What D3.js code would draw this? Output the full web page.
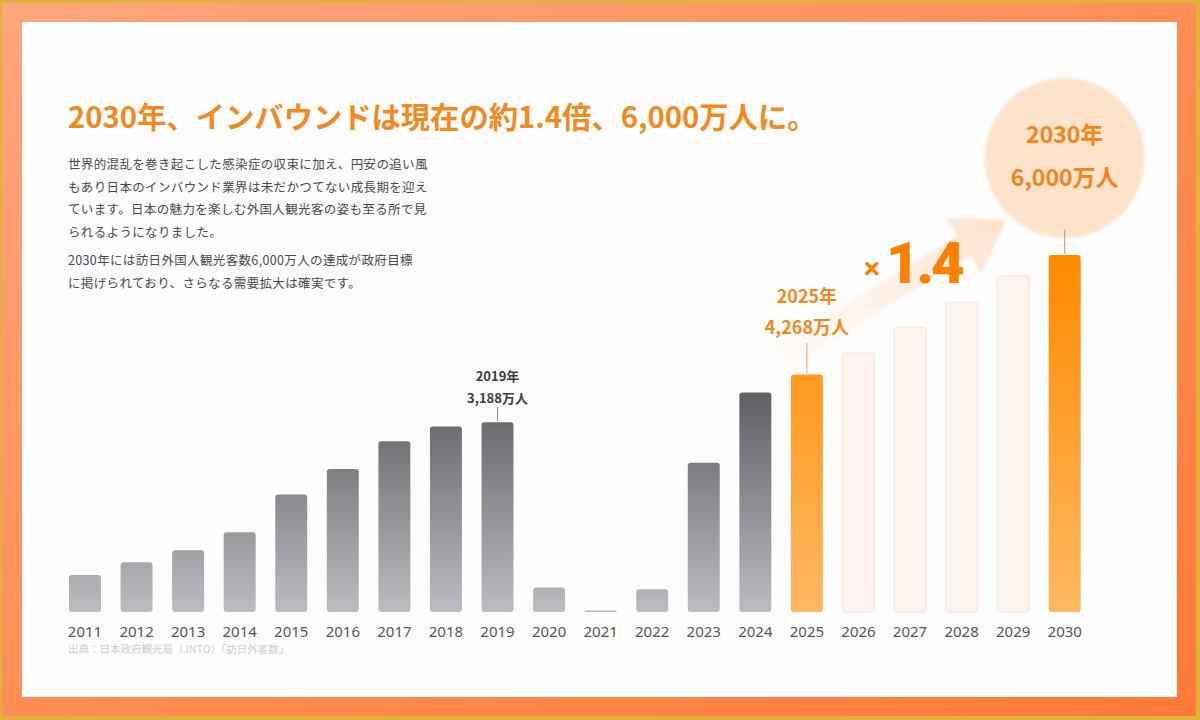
<!DOCTYPE html>
<html lang="ja">
<head>
<meta charset="utf-8">
<script src="https://cdn.jsdelivr.net/npm/d3@7"></script>
<style>
body{margin:0;background:#fff;}
svg{display:block;}
</style>
</head>
<body>
<svg id="chart" width="1200" height="720"></svg>
<script>
// data (万人)
var years = ["2011","2012","2013","2014","2015","2016","2017","2018","2019","2020",
             "2021","2022","2023","2024","2025","2026","2027","2028","2029","2030"];
var visitors = [622, 836, 1036, 1341, 1974, 2404, 2869, 3119, 3188, 412,
                25, 383, 2507, 3687, 3990, 4350, 4790, 5210, 5650, 6000];
// actual / highlight / forecast
var barKind = ["a","a","a","a","a","a","a","a","a","a",
               "a","a","a","a","h","f","f","f","f","h"];

var titleText = "2030年、インバウンドは現在の約1.4倍、6,000万人に。";
var bodyLines = [
  "世界的混乱を巻き起こした感染症の収束に加え、円安の追い風",
  "もあり日本のインバウンド業界は未だかつてない成長期を迎え",
  "ています。日本の魅力を楽しむ外国人観光客の姿も至る所で見",
  "られるようになりました。",
  "",
  "2030年には訪日外国人観光客数6,000万人の達成が政府目標",
  "に掲げられており、さらなる需要拡大は確実です。"
];
var note19 = ["2019年", "3,188万人"];
var note25 = ["2025年", "4,268万人"];
var note30 = ["2030年", "6,000万人"];
var growthText = "1.4";
var sourceText = "出典：日本政府観光局（JNTO）「訪日外客数」";

var jp = "'Noto Sans CJK JP', 'Noto Sans', sans-serif";
var svg = d3.select("#chart");
var defs = svg.append("defs");

// frame gradients
var fg = defs.append("linearGradient").attr("id","frameGrad")
  .attr("x1","0").attr("y1","0").attr("x2","1").attr("y2","1");
fg.append("stop").attr("offset","0%").attr("stop-color","#ffa67e");
fg.append("stop").attr("offset","55%").attr("stop-color","#ff8c52");
fg.append("stop").attr("offset","100%").attr("stop-color","#ff7a36");

svg.append("rect").attr("width",1200).attr("height",720).attr("fill","#e4b03c");
svg.append("rect").attr("x",2).attr("y",3).attr("width",1194).attr("height",713)
  .attr("fill","url(#frameGrad)");
svg.append("rect").attr("x",22).attr("y",22).attr("width",1155).attr("height",675)
  .attr("fill","#fefdfd");

// scales
var baseY = 612;
var x = d3.scaleBand().domain(years).range([59.2, 1090.5])
  .paddingInner(0.38).paddingOuter(0.19);
var y = d3.scaleLinear().domain([0, 6000]).range([baseY, 255]);

// bar gradients
var gg = defs.append("linearGradient").attr("id","grayGrad")
  .attr("gradientUnits","userSpaceOnUse")
  .attr("x1",0).attr("x2",0).attr("y1",y(3700)).attr("y2",baseY);
gg.append("stop").attr("offset","0%").attr("stop-color","#5f5e62");
gg.append("stop").attr("offset","100%").attr("stop-color","#bcbbbf");

var og = defs.append("linearGradient").attr("id","orangeGrad")
  .attr("gradientUnits","userSpaceOnUse")
  .attr("x1",0).attr("x2",0).attr("y1",y(6000)).attr("y2",baseY);
og.append("stop").attr("offset","0%").attr("stop-color","#ff8a00");
og.append("stop").attr("offset","100%").attr("stop-color","#ffb862");

var ag = defs.append("linearGradient").attr("id","arrowGrad")
  .attr("x1","0").attr("y1","1").attr("x2","1").attr("y2","0");
ag.append("stop").attr("offset","0%").attr("stop-color","#fde2cc").attr("stop-opacity",0);
ag.append("stop").attr("offset","55%").attr("stop-color","#fde2cc").attr("stop-opacity",0.5);
ag.append("stop").attr("offset","100%").attr("stop-color","#fcdcc2").attr("stop-opacity",0.8);

defs.append("filter").attr("id","soft").append("feGaussianBlur").attr("stdDeviation",1.8);

// big growth arrow (from 2025 label area up to the 2030 circle)
var cx25 = x("2025") + x.bandwidth()/2;
var cx30 = x("2030") + x.bandwidth()/2;
var sx = cx25 - 36, sy = y(4268) + 6;
var mx = cx30 - 101, my = y(6000) - 9;
var len = Math.hypot(mx - sx, my - sy);
var dx = (mx - sx)/len, dy = (my - sy)/len;
var nx = -dy, ny = dx;
var hw = 12, hh = 33, hl = 50;
var arrowPts = [
  [sx + nx*hw, sy + ny*hw], [mx + nx*hw, my + ny*hw], [mx + nx*hh, my + ny*hh],
  [mx + dx*hl, my + dy*hl],
  [mx - nx*hh, my - ny*hh], [mx - nx*hw, my - ny*hw], [sx - nx*hw, sy - ny*hw]
];
svg.append("path").attr("d", d3.line()(arrowPts) + "Z")
  .attr("fill","url(#arrowGrad)").attr("filter","url(#soft)");

// circle for 2030
var circY = y(6000) - 97;
svg.append("circle").attr("cx",cx30).attr("cy",circY).attr("r",80)
  .attr("fill","#fde3ca").attr("filter","url(#soft)");

// bars
svg.append("g").selectAll("rect").data(years).enter().append("rect")
  .attr("x", function(d){ return x(d); })
  .attr("y", function(d,i){ return y(visitors[i]); })
  .attr("width", x.bandwidth())
  .attr("height", function(d,i){ return Math.max(1.5, baseY - y(visitors[i])); })
  .attr("rx", function(d,i){ return visitors[i] < 100 ? 0.5 : 3; })
  .attr("fill", function(d,i){
    if (barKind[i] == "h") return "url(#orangeGrad)";
    if (barKind[i] == "f") return "#fdf3ef";
    return "url(#grayGrad)";
  })
  .attr("stroke", function(d,i){ return barKind[i] == "f" ? "#fbe6dd" : "none"; })
  .attr("stroke-width", 1.2);

// axis labels
var axis = svg.append("g").attr("transform","translate(0," + baseY + ")")
  .call(d3.axisBottom(x).tickSize(0).tickPadding(14));
axis.select(".domain").remove();
axis.selectAll("text").attr("font-family","'Noto Sans', sans-serif")
  .attr("font-size",15).attr("fill","#565558");

// callouts
function callout(lines, year, value, top, gap, size, color, lineColor, lineTop){
  var cx = x(year) + x.bandwidth()/2;
  var t = svg.append("text").attr("text-anchor","middle")
    .attr("font-family",jp).attr("font-weight",700)
    .attr("font-size",size).attr("fill",color);
  lines.forEach(function(s,i){
    t.append("tspan").attr("x",cx).attr("y",top + i*gap).text(s);
  });
  svg.append("line").attr("x1",cx).attr("x2",cx)
    .attr("y1",lineTop).attr("y2",y(value) - 1)
    .attr("stroke",lineColor).attr("stroke-width",1);
}
callout(note19, "2019", 3188, 381, 22, 13, "#3c3b3e", "#8a898c", 407);
callout(note25, "2025", 3990, 303, 31, 18, "#f5871d", "#f2a868", 343);
callout(note30, "2030", 6000, circY - 15, 43, 23, "#f5841a", "#b9936c", circY + 72);

// ×1.4
svg.append("text").attr("x",cx25 + 65).attr("y",280)
  .attr("text-anchor","middle").attr("font-family","'Noto Sans', sans-serif")
  .attr("font-weight",700).attr("font-size",32).attr("fill","#ff8000").text("×");
svg.append("text").attr("x",cx25 + 79).attr("y",283)
  .attr("font-family","'Roboto', 'Noto Sans', sans-serif")
  .attr("font-weight",900).attr("font-size",58).attr("letter-spacing",-3)
  .attr("fill","#ff8000").text(growthText);

// title and body text
svg.append("text").attr("x",68).attr("y",128)
  .attr("font-family",jp).attr("font-weight",700).attr("font-size",29.3)
  .attr("fill","#f28a1e").text(titleText);

svg.append("g").selectAll("text").data(bodyLines).enter().append("text")
  .attr("x",68).attr("y", function(d,i){ return i < 5 ? 169 + i*22.6 : 265 + (i-5)*22.6; })
  .attr("font-family",jp).attr("font-size",12.5).attr("letter-spacing",0.35)
  .attr("fill","#4a494c").text(function(d){ return d; });

svg.append("text").attr("x",68).attr("y",653)
  .attr("font-family",jp).attr("font-size",10.5).attr("fill","#cfcecf")
  .text(sourceText);
</script>
</body>
</html>
